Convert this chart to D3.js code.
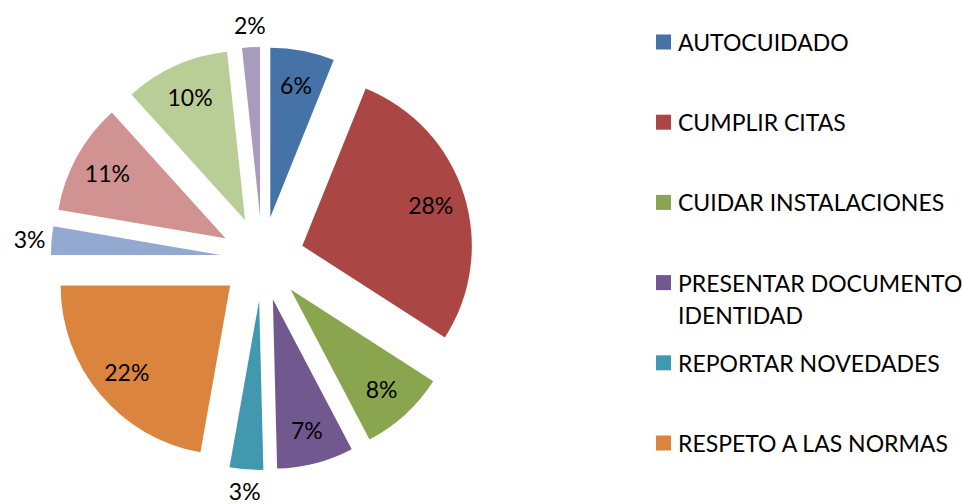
<!DOCTYPE html>
<html>
<head>
<meta charset="utf-8">
<script src="https://cdn.jsdelivr.net/npm/d3@7"></script>
<style>
  html, body { margin: 0; padding: 0; background: #fff; }
  svg { display: block; }
  text { font-family: Lato, "Open Sans", sans-serif; fill: #000; }
</style>
</head>
<body>
<svg id="chart" width="962" height="504"></svg>
<script>
// Categories in pie order (clockwise from 12 o'clock). The legend in the
// reference only shows the first six; the last four names are not visible.
const categories = [
  "AUTOCUIDADO",
  "CUMPLIR CITAS",
  "CUIDAR INSTALACIONES",
  "PRESENTAR DOCUMENTO IDENTIDAD",
  "REPORTAR NOVEDADES",
  "RESPETO A LAS NORMAS",
  "CATEGORÍA 7",
  "CATEGORÍA 8",
  "CATEGORÍA 9",
  "CATEGORÍA 10"
];
// Shares (%); labels show them rounded.
const shares = [6.1, 28.0, 8.2, 7.3, 3.2, 22.2, 2.7, 10.6, 10.0, 1.7];
const colors = ["#4572A7", "#AA4643", "#89A54E", "#71588F", "#4198AF",
                "#DB843D", "#93A9CF", "#D19392", "#B9CD96", "#A99BBD"];
const legendLines = [
  ["AUTOCUIDADO"],
  ["CUMPLIR CITAS"],
  ["CUIDAR INSTALACIONES"],
  ["PRESENTAR DOCUMENTO", "IDENTIDAD"],
  ["REPORTAR NOVEDADES"],
  ["RESPETO A LAS NORMAS"]
];

const svg = d3.select("#chart");
const cx = 262.3, cy = 258.5, R = 169.5, explode = 42;
const fontSize = 23;

const total = d3.sum(shares);
const data = categories.map((c, i) => ({ name: c, value: shares[i], color: colors[i] }));
const pie = d3.pie().sort(null).value(d => d.value);
const arcs = pie(data);
const arc = d3.arc().innerRadius(0).outerRadius(R);
const pct = d => Math.round(d.value / total * 100);

const g = svg.append("g").attr("transform", `translate(${cx},${cy})`);

function offset(a, dist) {
  const m = (a.startAngle + a.endAngle) / 2;
  return [Math.sin(m) * dist, -Math.cos(m) * dist];
}

const slices = g.selectAll("g.slice").data(arcs).enter().append("g")
  .attr("class", "slice")
  .attr("transform", d => { const o = offset(d, explode); return `translate(${o[0]},${o[1]})`; });

slices.append("path")
  .attr("d", arc)
  .attr("fill", d => d.data.color);

const labelDist = d => pct(d.data) <= 3 ? R + 22 : R * 0.795;
slices.append("text")
  .attr("text-anchor", "middle")
  .attr("dominant-baseline", "central")
  .attr("font-size", fontSize)
  .attr("x", d => offset(d, labelDist(d))[0])
  .attr("y", d => offset(d, labelDist(d))[1])
  .text(d => pct(d.data) + "%");

// Legend
const legendY = d3.scalePoint().domain(d3.range(legendLines.length)).range([42, 443]);
const lg = svg.append("g");
legendLines.forEach((lines, i) => {
  const y = legendY(i);
  lg.append("rect").attr("x", 656).attr("y", y - 7.5).attr("width", 15).attr("height", 15)
    .attr("fill", colors[i]);
  lines.forEach((t, j) => {
    lg.append("text").attr("x", 678).attr("y", y + j * 32)
      .attr("dominant-baseline", "central")
      .attr("font-size", fontSize)
      .text(t);
  });
});
</script>
</body>
</html>
